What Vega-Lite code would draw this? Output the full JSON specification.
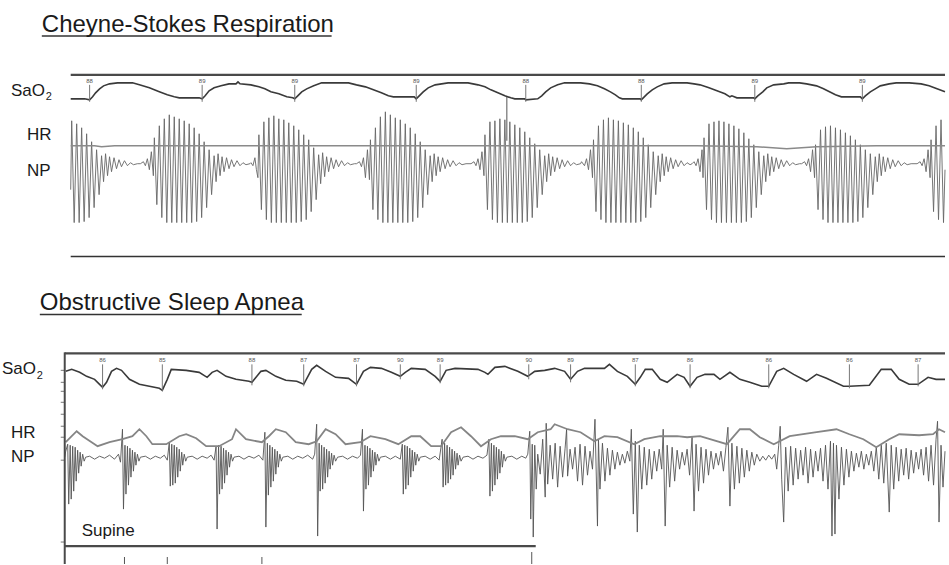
{
"$schema":"https://vega.github.io/schema/vega-lite/v6.json",
"width":949,"height":565,"padding":0,
"autosize":{"type":"fit","contains":"padding"},
"background":"white",
"config":{"view":{"stroke":null}},
"encoding":{
 "x":{"field":"t","type":"quantitative","scale":{"domain":[0,949],"nice":false,"zero":false},"axis":null},
 "y":{"field":"v","type":"quantitative","scale":{"domain":[565,0],"nice":false,"zero":false},"axis":null}
},
"datasets":{
"sao2A":[{"t":71,"v":99},{"t":85,"v":99},{"t":90,"v":100},{"t":93,"v":97},{"t":96,"v":93},{"t":100,"v":89},{"t":104,"v":86},{"t":110,"v":84},{"t":118,"v":83},{"t":133,"v":83},{"t":140,"v":85},{"t":150,"v":88},{"t":160,"v":92},{"t":168,"v":95},{"t":175,"v":97},{"t":180,"v":98},{"t":200,"v":98},{"t":203,"v":99},{"t":206,"v":96},{"t":210,"v":91},{"t":215,"v":88},{"t":222,"v":86},{"t":230,"v":84},{"t":237,"v":84},{"t":239,"v":82},{"t":241,"v":84},{"t":252,"v":85},{"t":260,"v":87},{"t":266,"v":89},{"t":272,"v":92},{"t":280,"v":94},{"t":288,"v":97},{"t":294,"v":98},{"t":296,"v":99},{"t":299,"v":96},{"t":303,"v":92},{"t":308,"v":89},{"t":315,"v":86},{"t":323,"v":83},{"t":350,"v":83},{"t":358,"v":85},{"t":367,"v":87},{"t":375,"v":90},{"t":383,"v":93},{"t":390,"v":96},{"t":395,"v":97},{"t":416,"v":97},{"t":418,"v":99},{"t":421,"v":96},{"t":425,"v":92},{"t":430,"v":88},{"t":437,"v":85},{"t":450,"v":83},{"t":470,"v":83},{"t":480,"v":85},{"t":487,"v":87},{"t":493,"v":90},{"t":500,"v":93},{"t":507,"v":96},{"t":513,"v":98},{"t":517,"v":99},{"t":527,"v":99},{"t":528,"v":100},{"t":540,"v":99},{"t":544,"v":96},{"t":548,"v":92},{"t":553,"v":88},{"t":560,"v":85},{"t":567,"v":83},{"t":583,"v":83},{"t":592,"v":84},{"t":600,"v":86},{"t":607,"v":89},{"t":613,"v":92},{"t":618,"v":95},{"t":622,"v":98},{"t":625,"v":99},{"t":643,"v":99},{"t":644,"v":100},{"t":647,"v":97},{"t":650,"v":94},{"t":655,"v":90},{"t":660,"v":87},{"t":667,"v":84},{"t":675,"v":83},{"t":690,"v":83},{"t":697,"v":84},{"t":703,"v":85},{"t":712,"v":88},{"t":720,"v":91},{"t":728,"v":94},{"t":733,"v":97},{"t":735,"v":96},{"t":740,"v":98},{"t":757,"v":98},{"t":758,"v":99},{"t":761,"v":96},{"t":766,"v":92},{"t":770,"v":88},{"t":777,"v":85},{"t":787,"v":84},{"t":792,"v":83},{"t":803,"v":83},{"t":810,"v":84},{"t":820,"v":86},{"t":827,"v":89},{"t":833,"v":92},{"t":839,"v":95},{"t":845,"v":97},{"t":864,"v":97},{"t":866,"v":99},{"t":869,"v":96},{"t":874,"v":92},{"t":879,"v":89},{"t":884,"v":86},{"t":893,"v":84},{"t":900,"v":83},{"t":913,"v":83},{"t":925,"v":84},{"t":933,"v":86},{"t":941,"v":89},{"t":949,"v":92}],
"hrA":[{"t":71,"v":146},{"t":95,"v":146},{"t":102,"v":147},{"t":115,"v":146},{"t":300,"v":146},{"t":500,"v":146},{"t":700,"v":146},{"t":760,"v":147},{"t":790,"v":149},{"t":820,"v":147},{"t":880,"v":146},{"t":949,"v":146}],
"npA":[{"t":71,"v":190},{"t":72,"v":121},{"t":74.5,"v":223},{"t":77,"v":124},{"t":79.5,"v":223},{"t":82,"v":128},{"t":84.5,"v":222},{"t":87,"v":134},{"t":89.5,"v":218},{"t":92,"v":142},{"t":94.5,"v":208},{"t":97,"v":150},{"t":99.5,"v":195},{"t":102,"v":156},{"t":104,"v":182},{"t":106,"v":154},{"t":108,"v":176},{"t":110,"v":157},{"t":112,"v":172},{"t":114.5,"v":158},{"t":117,"v":169},{"t":119.5,"v":160},{"t":122,"v":167},{"t":125,"v":161},{"t":128,"v":166},{"t":131,"v":163},{"t":134,"v":165},{"t":138,"v":164},
{"t":141,"v":164},{"t":144,"v":162},{"t":146,"v":166},{"t":148,"v":159},{"t":150,"v":170},{"t":152,"v":152},{"t":154,"v":176},{"t":155,"v":138},{"t":157.5,"v":205},{"t":160,"v":126},{"t":162.5,"v":218},{"t":165,"v":119},{"t":167.5,"v":223},{"t":170,"v":115},{"t":172.5,"v":223},{"t":175,"v":117},{"t":177.5,"v":223},{"t":180,"v":119},{"t":182.5,"v":223},{"t":185,"v":121},{"t":187.5,"v":223},{"t":190,"v":124},{"t":192.5,"v":223},{"t":195,"v":128},{"t":197.5,"v":222},{"t":200,"v":134},{"t":202.5,"v":218},{"t":205,"v":142},{"t":207.5,"v":208},{"t":210,"v":150},{"t":212.5,"v":195},{"t":215,"v":156},{"t":217,"v":182},{"t":219,"v":154},{"t":221,"v":176},{"t":223,"v":157},{"t":225,"v":172},{"t":227.5,"v":158},{"t":230,"v":169},{"t":232.5,"v":160},{"t":235,"v":167},{"t":238,"v":161},{"t":241,"v":166},{"t":244,"v":163},{"t":247,"v":165},{"t":251,"v":164},
{"t":252,"v":163},{"t":254,"v":166},{"t":256,"v":158},{"t":257.5,"v":170},{"t":259,"v":178},{"t":260,"v":135},{"t":262.5,"v":210},{"t":265,"v":122},{"t":267.5,"v":220},{"t":270,"v":118},{"t":272.5,"v":223},{"t":275,"v":116},{"t":277.5,"v":223},{"t":280,"v":119},{"t":282.5,"v":223},{"t":285,"v":120},{"t":287.5,"v":223},{"t":290,"v":123},{"t":292.5,"v":223},{"t":295,"v":126},{"t":297.5,"v":223},{"t":300,"v":130},{"t":302.5,"v":222},{"t":305,"v":135},{"t":307.5,"v":220},{"t":310,"v":140},{"t":312.5,"v":212},{"t":315,"v":148},{"t":317.5,"v":200},{"t":320,"v":155},{"t":322,"v":184},{"t":324,"v":153},{"t":326,"v":177},{"t":328,"v":157},{"t":330,"v":172},{"t":332.5,"v":158},{"t":335,"v":169},{"t":337.5,"v":160},{"t":340,"v":167},{"t":343,"v":161},{"t":346,"v":166},{"t":349,"v":163},{"t":352,"v":165},{"t":356,"v":164},
{"t":358,"v":164},{"t":361,"v":162},{"t":363,"v":167},{"t":365,"v":158},{"t":367,"v":178},{"t":369,"v":150},{"t":371,"v":180},{"t":372,"v":140},{"t":374.5,"v":210},{"t":377,"v":128},{"t":379.5,"v":220},{"t":382,"v":117},{"t":384.5,"v":223},{"t":387,"v":112},{"t":389.5,"v":223},{"t":392,"v":115},{"t":394.5,"v":223},{"t":397,"v":118},{"t":399.5,"v":223},{"t":402,"v":120},{"t":404.5,"v":223},{"t":407,"v":124},{"t":409.5,"v":223},{"t":412,"v":128},{"t":414.5,"v":222},{"t":417,"v":134},{"t":419.5,"v":218},{"t":422,"v":142},{"t":424.5,"v":208},{"t":427,"v":150},{"t":429.5,"v":195},{"t":432,"v":156},{"t":434,"v":182},{"t":436,"v":154},{"t":438,"v":176},{"t":440,"v":157},{"t":442,"v":172},{"t":444.5,"v":158},{"t":447,"v":169},{"t":449.5,"v":160},{"t":452,"v":167},{"t":455,"v":161},{"t":458,"v":166},{"t":461,"v":163},{"t":464,"v":165},{"t":468,"v":164},
{"t":473,"v":164},{"t":476,"v":162},{"t":478,"v":166},{"t":480,"v":159},{"t":482,"v":170},{"t":484,"v":152},{"t":486,"v":176},{"t":487,"v":135},{"t":489.5,"v":210},{"t":492,"v":122},{"t":494.5,"v":220},{"t":497,"v":121},{"t":499.5,"v":223},{"t":502,"v":119},{"t":504.5,"v":223},{"t":507,"v":120},{"t":509.5,"v":223},{"t":512,"v":122},{"t":514.5,"v":223},{"t":517,"v":125},{"t":519.5,"v":223},{"t":522,"v":128},{"t":524.5,"v":223},{"t":527,"v":132},{"t":529.5,"v":222},{"t":532,"v":138},{"t":534.5,"v":218},{"t":537,"v":144},{"t":539.5,"v":208},{"t":542,"v":150},{"t":544.5,"v":195},{"t":547,"v":156},{"t":549,"v":182},{"t":551,"v":154},{"t":553,"v":176},{"t":555,"v":157},{"t":557,"v":172},{"t":559.5,"v":158},{"t":562,"v":169},{"t":564.5,"v":160},{"t":567,"v":167},{"t":570,"v":161},{"t":573,"v":166},{"t":576,"v":163},{"t":579,"v":165},{"t":583,"v":164},
{"t":584,"v":162},{"t":587,"v":166},{"t":589,"v":159},{"t":591,"v":170},{"t":593,"v":150},{"t":595,"v":178},{"t":596,"v":140},{"t":598.5,"v":212},{"t":601,"v":126},{"t":603.5,"v":220},{"t":606,"v":120},{"t":608.5,"v":223},{"t":611,"v":118},{"t":613.5,"v":223},{"t":616,"v":120},{"t":618.5,"v":223},{"t":621,"v":121},{"t":623.5,"v":223},{"t":626,"v":123},{"t":628.5,"v":223},{"t":631,"v":125},{"t":633.5,"v":223},{"t":636,"v":128},{"t":638.5,"v":223},{"t":641,"v":132},{"t":643.5,"v":222},{"t":646,"v":138},{"t":648.5,"v":218},{"t":651,"v":145},{"t":653.5,"v":208},{"t":656,"v":152},{"t":658.5,"v":195},{"t":661,"v":156},{"t":663,"v":182},{"t":665,"v":154},{"t":667,"v":176},{"t":669,"v":157},{"t":671,"v":172},{"t":673.5,"v":158},{"t":676,"v":169},{"t":678.5,"v":160},{"t":681,"v":167},{"t":684,"v":161},{"t":687,"v":166},{"t":690,"v":163},{"t":693,"v":165},
{"t":695,"v":164},{"t":697,"v":162},{"t":699,"v":166},{"t":701,"v":159},{"t":703,"v":172},{"t":705,"v":150},{"t":706,"v":178},{"t":707,"v":138},{"t":709.5,"v":210},{"t":712,"v":124},{"t":714.5,"v":220},{"t":717,"v":122},{"t":719.5,"v":223},{"t":722,"v":121},{"t":724.5,"v":223},{"t":727,"v":122},{"t":729.5,"v":223},{"t":732,"v":124},{"t":734.5,"v":223},{"t":737,"v":126},{"t":739.5,"v":223},{"t":742,"v":129},{"t":744.5,"v":223},{"t":747,"v":133},{"t":749.5,"v":222},{"t":752,"v":139},{"t":754.5,"v":218},{"t":757,"v":145},{"t":759.5,"v":208},{"t":762,"v":152},{"t":764.5,"v":195},{"t":767,"v":156},{"t":769,"v":182},{"t":771,"v":154},{"t":773,"v":176},{"t":775,"v":157},{"t":777,"v":172},{"t":779.5,"v":158},{"t":782,"v":169},{"t":784.5,"v":160},{"t":787,"v":167},{"t":790,"v":161},{"t":793,"v":166},{"t":796,"v":163},{"t":799,"v":165},{"t":803,"v":164},
{"t":805,"v":164},{"t":808,"v":162},{"t":810,"v":166},{"t":812,"v":159},{"t":814,"v":172},{"t":816,"v":150},{"t":818,"v":178},{"t":819,"v":145},{"t":821.5,"v":210},{"t":824,"v":130},{"t":826.5,"v":220},{"t":829,"v":127},{"t":831.5,"v":223},{"t":834,"v":126},{"t":836.5,"v":223},{"t":839,"v":128},{"t":841.5,"v":223},{"t":844,"v":130},{"t":846.5,"v":223},{"t":849,"v":133},{"t":851.5,"v":223},{"t":854,"v":136},{"t":856.5,"v":223},{"t":859,"v":140},{"t":861.5,"v":222},{"t":864,"v":145},{"t":866.5,"v":218},{"t":869,"v":150},{"t":871.5,"v":208},{"t":874,"v":154},{"t":876.5,"v":195},{"t":879,"v":157},{"t":881,"v":182},{"t":883,"v":154},{"t":885,"v":176},{"t":887,"v":157},{"t":889,"v":172},{"t":891.5,"v":158},{"t":894,"v":169},{"t":896.5,"v":160},{"t":899,"v":167},{"t":902,"v":161},{"t":905,"v":166},{"t":908,"v":163},{"t":911,"v":165},{"t":915,"v":164},
{"t":921,"v":164},{"t":924,"v":162},{"t":926,"v":166},{"t":928,"v":159},{"t":930,"v":172},{"t":932,"v":150},{"t":934,"v":178},{"t":935,"v":140},{"t":937.5,"v":212},{"t":940,"v":126},{"t":942.5,"v":220},{"t":945,"v":120},{"t":947.5,"v":223},{"t":949,"v":170}],
"sao2B":[{"t":66,"v":372},{"t":72,"v":370},{"t":80,"v":373},{"t":87,"v":377},{"t":95,"v":380},{"t":100,"v":385},{"t":103,"v":388},{"t":107,"v":383},{"t":112,"v":372},{"t":117,"v":369},{"t":122,"v":371},{"t":130,"v":380},{"t":140,"v":385},{"t":150,"v":387},{"t":160,"v":389},{"t":163,"v":391},{"t":168,"v":380},{"t":172,"v":370},{"t":187,"v":371},{"t":200,"v":373},{"t":208,"v":378},{"t":213,"v":373},{"t":218,"v":371},{"t":227,"v":377},{"t":237,"v":380},{"t":250,"v":382},{"t":253,"v":383},{"t":262,"v":372},{"t":267,"v":371},{"t":277,"v":377},{"t":287,"v":381},{"t":298,"v":382},{"t":305,"v":385},{"t":313,"v":370},{"t":318,"v":366},{"t":327,"v":372},{"t":337,"v":378},{"t":350,"v":379},{"t":358,"v":385},{"t":365,"v":372},{"t":372,"v":368},{"t":383,"v":369},{"t":393,"v":373},{"t":402,"v":377},{"t":407,"v":373},{"t":413,"v":369},{"t":427,"v":370},{"t":437,"v":377},{"t":442,"v":382},{"t":448,"v":371},{"t":457,"v":369},{"t":480,"v":370},{"t":487,"v":373},{"t":490,"v":375},{"t":497,"v":368},{"t":507,"v":367},{"t":520,"v":372},{"t":530,"v":377},{"t":537,"v":372},{"t":547,"v":371},{"t":557,"v":369},{"t":567,"v":372},{"t":573,"v":380},{"t":580,"v":372},{"t":587,"v":369},{"t":607,"v":369},{"t":612,"v":365},{"t":620,"v":372},{"t":630,"v":377},{"t":638,"v":385},{"t":643,"v":378},{"t":648,"v":370},{"t":655,"v":370},{"t":663,"v":380},{"t":670,"v":383},{"t":680,"v":375},{"t":687,"v":378},{"t":693,"v":387},{"t":700,"v":378},{"t":708,"v":375},{"t":717,"v":375},{"t":723,"v":380},{"t":733,"v":373},{"t":743,"v":380},{"t":753,"v":383},{"t":765,"v":387},{"t":772,"v":387},{"t":780,"v":372},{"t":787,"v":369},{"t":797,"v":375},{"t":810,"v":382},{"t":820,"v":375},{"t":830,"v":379},{"t":847,"v":387},{"t":853,"v":387},{"t":873,"v":386},{"t":885,"v":370},{"t":895,"v":370},{"t":903,"v":380},{"t":913,"v":385},{"t":922,"v":385},{"t":932,"v":378},{"t":940,"v":380},{"t":949,"v":380}],
"hrB":[{"t":66,"v":443},{"t":72,"v":437},{"t":77,"v":432},{"t":83,"v":437},{"t":92,"v":443},{"t":98,"v":447},{"t":110,"v":443},{"t":123,"v":440},{"t":133,"v":437},{"t":140,"v":430},{"t":147,"v":437},{"t":153,"v":445},{"t":167,"v":445},{"t":180,"v":437},{"t":187,"v":435},{"t":197,"v":439},{"t":207,"v":447},{"t":220,"v":447},{"t":233,"v":440},{"t":237,"v":430},{"t":247,"v":440},{"t":263,"v":443},{"t":270,"v":437},{"t":277,"v":430},{"t":287,"v":433},{"t":297,"v":443},{"t":310,"v":445},{"t":318,"v":442},{"t":327,"v":430},{"t":337,"v":435},{"t":347,"v":445},{"t":362,"v":443},{"t":372,"v":437},{"t":387,"v":440},{"t":400,"v":445},{"t":413,"v":437},{"t":422,"v":437},{"t":433,"v":447},{"t":443,"v":447},{"t":453,"v":433},{"t":463,"v":428},{"t":473,"v":437},{"t":483,"v":447},{"t":493,"v":440},{"t":503,"v":437},{"t":517,"v":437},{"t":530,"v":440},{"t":540,"v":433},{"t":553,"v":430},{"t":557,"v":425},{"t":570,"v":430},{"t":583,"v":433},{"t":597,"v":442},{"t":607,"v":437},{"t":620,"v":438},{"t":637,"v":445},{"t":647,"v":440},{"t":663,"v":437},{"t":680,"v":437},{"t":690,"v":438},{"t":703,"v":437},{"t":730,"v":445},{"t":743,"v":430},{"t":753,"v":430},{"t":763,"v":438},{"t":777,"v":445},{"t":793,"v":437},{"t":820,"v":433},{"t":840,"v":430},{"t":853,"v":435},{"t":867,"v":440},{"t":880,"v":448},{"t":893,"v":440},{"t":903,"v":435},{"t":923,"v":436},{"t":937,"v":435},{"t":943,"v":430},{"t":949,"v":433}],
"npB":[{"t":65,"v":458},{"t":66,"v":452},{"t":68,"v":445},{"t":69,"v":505},{"t":70.5,"v":446},{"t":71.5,"v":500},{"t":73,"v":447},{"t":74,"v":492},{"t":75.5,"v":448},{"t":76.5,"v":482},{"t":78,"v":451},{"t":79,"v":474},{"t":80.5,"v":453},{"t":81.5,"v":467},{"t":83,"v":455},{"t":84.5,"v":462},{"t":86,"v":458},{"t":90,"v":457},{"t":95,"v":460},{"t":100,"v":457},{"t":105,"v":459},{"t":110,"v":456},{"t":115,"v":460},{"t":119,"v":455},{"t":121,"v":463},
{"t":123,"v":430},{"t":124,"v":510},{"t":125.5,"v":446},{"t":126.5,"v":495},{"t":128,"v":447},{"t":129,"v":486},{"t":130.5,"v":449},{"t":131.5,"v":478},{"t":133,"v":451},{"t":134,"v":472},{"t":135.5,"v":453},{"t":136.5,"v":466},{"t":138,"v":455},{"t":139.5,"v":462},{"t":141,"v":458},{"t":146,"v":457},{"t":151,"v":460},{"t":156,"v":457},{"t":161,"v":459},{"t":165,"v":456},{"t":168,"v":461},
{"t":170,"v":443},{"t":171,"v":487},{"t":172.5,"v":445},{"t":173.5,"v":486},{"t":175,"v":446},{"t":176,"v":484},{"t":177.5,"v":448},{"t":178.5,"v":478},{"t":180,"v":450},{"t":181,"v":472},{"t":182.5,"v":453},{"t":183.5,"v":466},{"t":185,"v":455},{"t":186.5,"v":462},{"t":188,"v":458},{"t":193,"v":457},{"t":198,"v":460},{"t":203,"v":457},{"t":208,"v":459},{"t":212,"v":456},{"t":215,"v":461},
{"t":217,"v":447},{"t":218,"v":530},{"t":219.5,"v":446},{"t":220.5,"v":495},{"t":222,"v":447},{"t":223,"v":490},{"t":224.5,"v":449},{"t":225.5,"v":484},{"t":227,"v":451},{"t":228,"v":476},{"t":229.5,"v":453},{"t":230.5,"v":468},{"t":232,"v":455},{"t":233.5,"v":462},{"t":235,"v":458},{"t":240,"v":457},{"t":245,"v":460},{"t":250,"v":457},{"t":255,"v":459},{"t":260,"v":456},{"t":264,"v":461},
{"t":266,"v":433},{"t":267,"v":528},{"t":268.5,"v":444},{"t":269.5,"v":496},{"t":271,"v":446},{"t":272,"v":488},{"t":273.5,"v":448},{"t":274.5,"v":482},{"t":276,"v":450},{"t":277,"v":475},{"t":278.5,"v":452},{"t":279.5,"v":468},{"t":281,"v":455},{"t":282.5,"v":462},{"t":284,"v":458},{"t":289,"v":457},{"t":294,"v":460},{"t":299,"v":457},{"t":304,"v":459},{"t":309,"v":456},{"t":314,"v":460},{"t":316,"v":455},
{"t":318,"v":425},{"t":319,"v":537},{"t":320.5,"v":444},{"t":321.5,"v":492},{"t":323,"v":446},{"t":324,"v":490},{"t":325.5,"v":448},{"t":326.5,"v":484},{"t":328,"v":450},{"t":329,"v":478},{"t":330.5,"v":452},{"t":331.5,"v":470},{"t":333,"v":454},{"t":334,"v":466},{"t":335.5,"v":456},{"t":337,"v":462},{"t":339,"v":458},{"t":344,"v":457},{"t":349,"v":460},{"t":354,"v":457},{"t":359,"v":459},{"t":362,"v":456},
{"t":364,"v":430},{"t":365,"v":512},{"t":366.5,"v":446},{"t":367.5,"v":490},{"t":369,"v":447},{"t":370,"v":486},{"t":371.5,"v":449},{"t":372.5,"v":478},{"t":374,"v":451},{"t":375,"v":472},{"t":376.5,"v":453},{"t":377.5,"v":466},{"t":379,"v":455},{"t":380.5,"v":462},{"t":382,"v":458},{"t":387,"v":457},{"t":392,"v":460},{"t":397,"v":457},{"t":402,"v":460},
{"t":404,"v":445},{"t":405,"v":495},{"t":406.5,"v":446},{"t":407.5,"v":490},{"t":409,"v":447},{"t":410,"v":486},{"t":411.5,"v":449},{"t":412.5,"v":478},{"t":414,"v":451},{"t":415,"v":472},{"t":416.5,"v":453},{"t":417.5,"v":466},{"t":419,"v":455},{"t":420.5,"v":462},{"t":422,"v":458},{"t":427,"v":457},{"t":432,"v":460},{"t":437,"v":457},{"t":441,"v":461},
{"t":444,"v":440},{"t":445,"v":488},{"t":446.5,"v":444},{"t":447.5,"v":486},{"t":449,"v":446},{"t":450,"v":484},{"t":451.5,"v":448},{"t":452.5,"v":480},{"t":454,"v":450},{"t":455,"v":476},{"t":456.5,"v":452},{"t":457.5,"v":470},{"t":459,"v":454},{"t":460,"v":466},{"t":461.5,"v":456},{"t":463,"v":462},{"t":465,"v":458},{"t":470,"v":457},{"t":475,"v":460},{"t":480,"v":457},{"t":485,"v":459},{"t":489,"v":456},
{"t":491,"v":440},{"t":492,"v":497},{"t":493.5,"v":444},{"t":494.5,"v":492},{"t":496,"v":446},{"t":497,"v":486},{"t":498.5,"v":448},{"t":499.5,"v":480},{"t":501,"v":450},{"t":502,"v":474},{"t":503.5,"v":452},{"t":504.5,"v":468},{"t":506,"v":455},{"t":507.5,"v":462},{"t":509,"v":458},{"t":514,"v":457},{"t":519,"v":460},{"t":524,"v":457},{"t":528,"v":459},{"t":530,"v":455},
{"t":532,"v":432},{"t":533,"v":520},{"t":534.5,"v":445},{"t":535.5,"v":538},{"t":537,"v":446},{"t":538.5,"v":490},
{"t":540,"v":455},{"t":542.5,"v":475},{"t":545,"v":440},{"t":547.5,"v":498},{"t":548.5,"v":424},{"t":550,"v":485},{"t":552.5,"v":446},{"t":555,"v":480},{"t":557.5,"v":444},{"t":560,"v":488},{"t":562.5,"v":447},{"t":565,"v":478},{"t":567.5,"v":449},{"t":569,"v":430},{"t":570,"v":477},{"t":572.5,"v":450},{"t":575,"v":470},{"t":577.5,"v":448},{"t":580,"v":482},{"t":582.5,"v":445},{"t":585,"v":486},{"t":587.5,"v":447},{"t":590,"v":476},{"t":592.5,"v":452},{"t":595,"v":470},{"t":597.5,"v":420},{"t":600,"v":527},{"t":601,"v":440},{"t":602.5,"v":490},{"t":605,"v":444},{"t":607.5,"v":482},{"t":610,"v":449},{"t":612.5,"v":476},{"t":615,"v":451},{"t":617.5,"v":470},{"t":620,"v":453},{"t":622.5,"v":466},{"t":625,"v":455},{"t":627.5,"v":464},{"t":630,"v":452},{"t":632.5,"v":462},{"t":634,"v":430},{"t":636,"v":515},{"t":638,"v":442},{"t":640,"v":533},{"t":642,"v":446},{"t":644.5,"v":490},{"t":647,"v":448},{"t":649.5,"v":486},{"t":652,"v":450},{"t":654.5,"v":480},{"t":657,"v":452},{"t":659.5,"v":472},{"t":662,"v":450},{"t":664.5,"v":470},{"t":666,"v":430},{"t":668,"v":527},{"t":670,"v":446},{"t":672.5,"v":488},{"t":675,"v":448},{"t":677.5,"v":482},{"t":680,"v":451},{"t":682.5,"v":470},{"t":685,"v":453},{"t":687.5,"v":466},{"t":690,"v":450},{"t":692.5,"v":476},{"t":695,"v":438},{"t":697,"v":512},{"t":699,"v":445},{"t":701.5,"v":492},{"t":704,"v":448},{"t":706.5,"v":484},{"t":709,"v":450},{"t":711.5,"v":476},{"t":714,"v":452},{"t":716.5,"v":470},{"t":719,"v":454},{"t":721.5,"v":466},{"t":724,"v":452},{"t":726.5,"v":472},{"t":729,"v":448},{"t":731,"v":428},{"t":733,"v":507},{"t":735,"v":444},{"t":737.5,"v":490},{"t":740,"v":447},{"t":742.5,"v":484},{"t":745,"v":449},{"t":747.5,"v":478},{"t":750,"v":451},{"t":752.5,"v":472},{"t":755,"v":453},{"t":757.5,"v":466},{"t":760,"v":455},{"t":763,"v":462},{"t":766,"v":457},{"t":769,"v":461},{"t":772,"v":456},{"t":775,"v":460},{"t":778,"v":455},{"t":780,"v":470},{"t":782,"v":446},{"t":783.5,"v":427},{"t":785,"v":480},{"t":787,"v":523},{"t":789,"v":448},{"t":791.5,"v":492},{"t":794,"v":447},{"t":796.5,"v":486},{"t":799,"v":449},{"t":801.5,"v":480},{"t":804,"v":451},{"t":806.5,"v":476},{"t":809,"v":448},{"t":811.5,"v":484},{"t":814,"v":450},{"t":816.5,"v":478},{"t":819,"v":452},{"t":821.5,"v":472},{"t":824,"v":449},{"t":826.5,"v":482},{"t":829,"v":446},{"t":831.5,"v":490},{"t":834,"v":442},{"t":835.5,"v":537},{"t":837,"v":444},{"t":838.5,"v":535},{"t":840,"v":446},{"t":842.5,"v":500},{"t":845,"v":448},{"t":847.5,"v":486},{"t":850,"v":450},{"t":852.5,"v":478},{"t":855,"v":452},{"t":857.5,"v":472},{"t":860,"v":454},{"t":862.5,"v":468},{"t":865,"v":452},{"t":867.5,"v":470},{"t":870,"v":455},{"t":872.5,"v":466},{"t":875,"v":452},{"t":877.5,"v":472},{"t":880,"v":448},{"t":882.5,"v":480},{"t":885,"v":446},{"t":887.5,"v":484},{"t":890,"v":444},{"t":893,"v":513},{"t":895,"v":446},{"t":897.5,"v":490},{"t":900,"v":448},{"t":902.5,"v":482},{"t":905,"v":450},{"t":907.5,"v":476},{"t":910,"v":449},{"t":912.5,"v":480},{"t":915,"v":451},{"t":917.5,"v":474},{"t":920,"v":453},{"t":922.5,"v":470},{"t":925,"v":450},{"t":927.5,"v":476},{"t":930,"v":448},{"t":932.5,"v":482},{"t":935,"v":446},{"t":937.5,"v":486},{"t":940,"v":440},{"t":941.5,"v":422},{"t":943,"v":523},{"t":945,"v":446},{"t":947,"v":488},{"t":949,"v":452}],
"satTicks":[{"t":90,"v":85,"v2":102,"label":"88"},{"t":203,"v":85,"v2":102,"label":"89"},{"t":296,"v":85,"v2":102,"label":"89"},{"t":418,"v":85,"v2":102,"label":"89"},{"t":528,"v":85,"v2":102,"label":"88"},{"t":644,"v":85,"v2":102,"label":"88"},{"t":758,"v":85,"v2":102,"label":"89"},{"t":866,"v":85,"v2":102,"label":"89"},
{"t":103,"v":365,"v2":390,"label":"86"},{"t":163,"v":365,"v2":392,"label":"85"},{"t":253,"v":365,"v2":386,"label":"88"},{"t":305,"v":365,"v2":387,"label":"87"},{"t":358,"v":365,"v2":387,"label":"87"},{"t":402,"v":365,"v2":380,"label":"90"},{"t":442,"v":365,"v2":384,"label":"89"},{"t":531,"v":365,"v2":380,"label":"90"},{"t":573,"v":365,"v2":383,"label":"89"},{"t":638,"v":365,"v2":387,"label":"87"},{"t":693,"v":365,"v2":389,"label":"86"},{"t":772,"v":365,"v2":389,"label":"86"},{"t":853,"v":365,"v2":389,"label":"86"},{"t":922,"v":365,"v2":387,"label":"87"}],
"vMinor":[{"t":509,"v":97,"v2":141},{"t":125,"v":558,"v2":565},{"t":168,"v":558,"v2":565},{"t":263,"v":558,"v2":565},{"t":534,"v":553,"v2":565}],
"hThick":[{"t":71,"t2":949,"v":75},{"t":65,"t2":949,"v":354},{"t":65,"t2":538,"v":547}],
"hThin":[{"t":71,"t2":949,"v":257},{"t":42,"t2":333,"v":36},{"t":40,"t2":303,"v":315}],
"axisTicks":[{"t":61,"t2":65,"v":371},{"t":61,"t2":65,"v":383},{"t":61,"t2":65,"v":392},{"t":61,"t2":65,"v":403},{"t":61,"t2":65,"v":415},{"t":61,"t2":65,"v":427},{"t":61,"t2":65,"v":438},{"t":61,"t2":65,"v":461},{"t":61,"t2":65,"v":543}],
"vThick":[{"t":65,"v":353,"v2":565}],
"titles":[{"label":"Cheyne-Stokes Respiration","t":42,"v":32},{"label":"Obstructive Sleep Apnea","t":40,"v":311}],
"channels":[{"label":"SaO","t":11,"v":96},{"label":"HR","t":27,"v":140},{"label":"NP","t":27,"v":176},{"label":"SaO","t":2,"v":375},{"label":"HR","t":11,"v":439},{"label":"NP","t":11,"v":463},{"label":"Supine","t":82,"v":537}],
"subs":[{"label":"2","t":46,"v":100},{"label":"2","t":37,"v":380}]
},
"layer":[
{"data":{"name":"sao2A"},"mark":{"type":"line","color":"#3a3a3a","strokeWidth":1.6}},
{"data":{"name":"npA"},"mark":{"type":"line","color":"#666","strokeWidth":0.9}},
{"data":{"name":"hrA"},"mark":{"type":"line","color":"#8a8a8a","strokeWidth":1.5}},
{"data":{"name":"sao2B"},"mark":{"type":"line","color":"#3a3a3a","strokeWidth":1.6}},
{"data":{"name":"npB"},"mark":{"type":"line","color":"#555","strokeWidth":0.9}},
{"data":{"name":"hrB"},"mark":{"type":"line","color":"#858585","strokeWidth":1.8}},
{"data":{"name":"satTicks"},"mark":{"type":"rule","color":"#777","strokeWidth":1},"encoding":{"y2":{"field":"v2"}}},
{"data":{"name":"satTicks"},"mark":{"type":"text","fontSize":6,"font":"Liberation Sans","color":"#555","align":"center","baseline":"bottom","dy":-1},"encoding":{"text":{"field":"label"}}},
{"data":{"name":"vMinor"},"mark":{"type":"rule","color":"#555","strokeWidth":1},"encoding":{"y2":{"field":"v2"}}},
{"data":{"name":"hThick"},"mark":{"type":"rule","color":"#4a4a4a","strokeWidth":2.2},"encoding":{"x2":{"field":"t2"}}},
{"data":{"name":"hThin"},"mark":{"type":"rule","color":"#333","strokeWidth":1.4},"encoding":{"x2":{"field":"t2"}}},
{"data":{"name":"axisTicks"},"mark":{"type":"rule","color":"#777","strokeWidth":1},"encoding":{"x2":{"field":"t2"}}},
{"data":{"name":"vThick"},"mark":{"type":"rule","color":"#4a4a4a","strokeWidth":2},"encoding":{"y2":{"field":"v2"}}},
{"data":{"name":"titles"},"mark":{"type":"text","fontSize":24,"font":"Liberation Sans","color":"#1a1a1a","align":"left","baseline":"alphabetic"},"encoding":{"text":{"field":"label"}}},
{"data":{"name":"channels"},"mark":{"type":"text","fontSize":17,"font":"Liberation Sans","color":"#1a1a1a","align":"left","baseline":"alphabetic"},"encoding":{"text":{"field":"label"}}},
{"data":{"name":"subs"},"mark":{"type":"text","fontSize":11,"font":"Liberation Sans","color":"#1a1a1a","align":"left","baseline":"alphabetic"},"encoding":{"text":{"field":"label"}}}
]
}
